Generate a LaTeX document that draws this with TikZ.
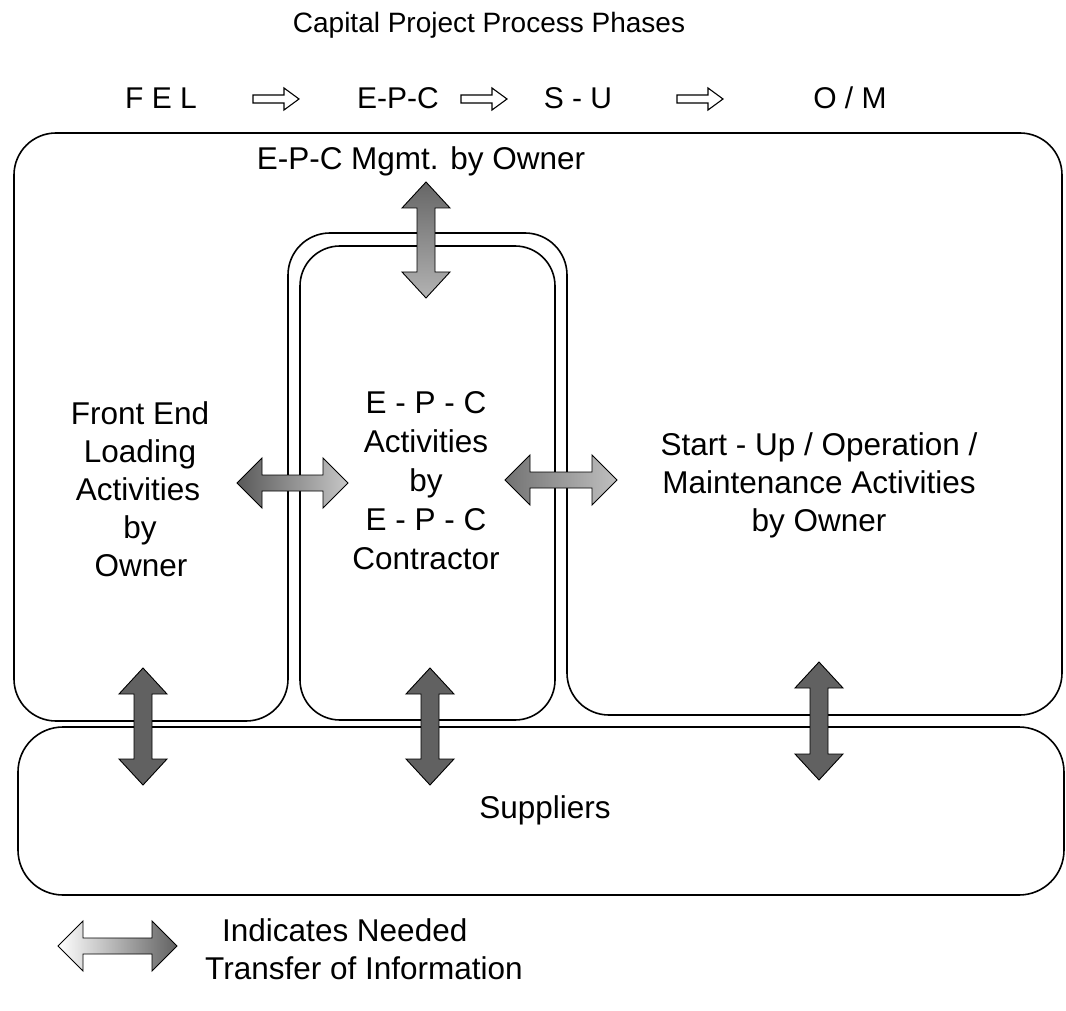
\documentclass[tikz,border=0pt]{standalone}
\usepackage{fontspec}
\setmainfont{Liberation Sans}
\newcommand{\HArrow}[4]{%
  \path[#1] (#2,#4) -- (#2+25,#4-25) -- (#2+25,#4-8) -- (#3-25,#4-8) -- (#3-25,#4-25) -- (#3,#4)
    -- (#3-25,#4+25) -- (#3-25,#4+8) -- (#2+25,#4+8) -- (#2+25,#4+25) -- cycle;}
\newcommand{\VArrow}[4]{%
  \path[#1] (#2,#3) -- (#2+24,#3+26) -- (#2+9,#3+26) -- (#2+9,#4-26) -- (#2+24,#4-26) -- (#2,#4)
    -- (#2-24,#4-26) -- (#2-9,#4-26) -- (#2-9,#3+26) -- (#2-24,#3+26) -- cycle;}
\newcommand{\HollowArrow}[2]{%
  \draw[line width=1.1pt, line join=miter] (#1-23,#2-4) -- (#1+8,#2-4) -- (#1+8,#2-11) -- (#1+23,#2)
    -- (#1+8,#2+11) -- (#1+8,#2+4) -- (#1-23,#2+4) -- cycle;}
\begin{document}
\begin{tikzpicture}[x=1pt,y=-1pt,
  outl/.style={line width=1.6pt, draw=black},
  txt/.style={font=\fontsize{31.5}{38}\selectfont, anchor=base, inner sep=0pt},
  hdr/.style={font=\fontsize{30}{36}\selectfont, anchor=base, inner sep=0pt},
  blk/.style={draw=black, line width=0.9pt, line join=miter}]
\useasboundingbox (0,0) rectangle (1066,1011);
\fill[white] (0,0) rectangle (1066,1011);

% title and phases
\node[font=\fontsize{28}{34}\selectfont, anchor=base, inner sep=0pt] (title) at (489,33) {Capital Project Process Phases};
\node[hdr] (fel) at (161,109) {F E L};
\node[hdr] (epch) at (398,109) {E-P-C};
\node[hdr] (su) at (578,109) {S - U};
\node[hdr] (om) at (850,109) {O / M};
\HollowArrow{276}{99}
\HollowArrow{484}{99}
\HollowArrow{700}{99}

% owner region with notch
\draw[outl, rounded corners=42] (150,721) -- (14,721) -- (14,133) -- (1062,133) -- (1062,715)
  -- (567,715) -- (567,233) -- (288,233) -- (288,721) -- cycle;
% EPC contractor box
\node[outl, rounded corners=40, minimum width=255pt, minimum height=474pt, inner sep=0pt] (epcbox) at (427.5,483) {};
% suppliers box
\node[outl, rounded corners=45, minimum width=1046pt, minimum height=168pt, inner sep=0pt] (supbox) at (541,811) {};

% texts
\node[txt] (mgmt) at (421,170) {E-P-C Mgmt. by Owner};

\node[txt] (fe1) at (140,424) {Front End};
\node[txt] (fe2) at (140,462) {Loading};
\node[txt] (fe3) at (138,500) {Activities};
\node[txt] (fe4) at (140,538) {by};
\node[txt] (fe5) at (141,576) {Owner};

\node[txt] (ep1) at (426,413) {E - P - C};
\node[txt] (ep2) at (426,452) {Activities};
\node[txt] (ep3) at (426,491) {by};
\node[txt] (ep4) at (426,530) {E - P - C};
\node[txt] (ep5) at (426,569) {Contractor};

\node[txt] (su1) at (819,455) {Start - Up / Operation /};
\node[txt] (su2) at (819,493) {Maintenance Activities};
\node[txt] (su3) at (819,531) {by Owner};

\node[txt] (suptxt) at (545,818) {Suppliers};

% transfer arrows
\VArrow{blk, top color=black!60, bottom color=black!30}{426}{182}{298}
\HArrow{blk, left color=black!65, right color=black!22}{237}{348}{483}
\HArrow{blk, left color=black!55, right color=black!25}{505}{617}{480}
\VArrow{blk, fill=black!62}{143}{668}{785}
\VArrow{blk, fill=black!62}{430}{668}{785}
\VArrow{blk, fill=black!62}{819}{662}{780}

% legend
\HArrow{blk, left color=white, right color=black!62}{58}{177}{946}
\node[txt, anchor=base west] (leg1) at (222,941) {Indicates Needed};
\node[txt, anchor=base west] (leg2) at (205,979) {Transfer of Information};
\end{tikzpicture}
\end{document}
